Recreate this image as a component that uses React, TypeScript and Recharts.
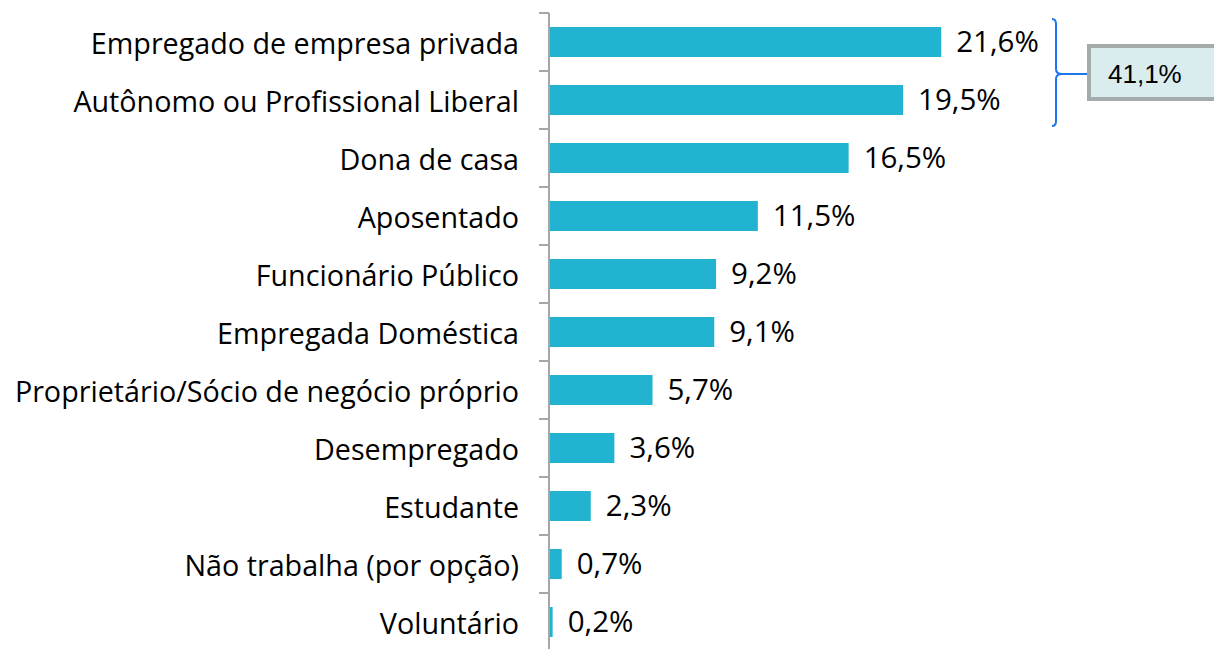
import { Bar, BarChart, Cell, LabelList, XAxis, YAxis } from "recharts";

const occupations = [
  "Empregado de empresa privada",
  "Autônomo ou Profissional Liberal",
  "Dona de casa",
  "Aposentado",
  "Funcionário Público",
  "Empregada Doméstica",
  "Proprietário/Sócio de negócio próprio",
  "Desempregado",
  "Estudante",
  "Não trabalha (por opção)",
  "Voluntário",
];

const shares = [21.6, 19.5, 16.5, 11.5, 9.2, 9.1, 5.7, 3.6, 2.3, 0.7, 0.2];

const groupTotalLabel = "41,1%";

const data = occupations.map((name, i) => ({ name, value: shares[i] }));

const CHART_W = 1214;
const CHART_H = 652;
const MARGIN = { top: 13, right: 211, bottom: 1, left: 0 };
const BAND = (CHART_H - MARGIN.top - MARGIN.bottom) / occupations.length;

const FONT = "'Open Sans', sans-serif";
const AXIS_GRAY = "#a6a6a6";

const fmt = (v: any) => `${String(v).replace(".", ",")}%`;

function CategoryTick(props: any) {
  const { x, y, payload, index } = props;
  const last = index === occupations.length - 1;
  return (
    <g>
      <line x1={x - 10} x2={x} y1={y - BAND / 2} y2={y - BAND / 2} stroke={AXIS_GRAY} strokeWidth={2} />
      {last && (
        <line x1={x - 10} x2={x} y1={y + BAND / 2} y2={y + BAND / 2} stroke={AXIS_GRAY} strokeWidth={2} />
      )}
      <text
        x={x - 30}
        y={y}
        textAnchor="end"
        dominantBaseline="central"
        fontFamily={FONT}
        fontSize={28.7}
        fill="#000"
      >
        {payload.value}
      </text>
    </g>
  );
}

function GroupBracket() {
  return (
    <svg
      width={CHART_W}
      height={CHART_H}
      style={{ position: "absolute", left: 0, top: 0, pointerEvents: "none" }}
    >
      <path
        d="M1052,19 Q1056,19 1056,24 L1056,69 Q1056,74 1062,74 L1087,74 M1062,74 Q1056,74 1056,79 L1056,121 Q1056,126 1052,126"
        fill="none"
        stroke="#1f74f0"
        strokeWidth={2}
      />
      <rect x={1089} y={46} width={130} height={53} fill="#daedee" stroke="#a3abab" strokeWidth={4} />
      <text
        x={1108}
        y={74}
        dominantBaseline="central"
        fontFamily="'Liberation Sans', Arial, sans-serif"
        fontSize={26}
        fill="#000"
      >
        {groupTotalLabel}
      </text>
    </svg>
  );
}

export default function App() {
  return (
    <div style={{ position: "absolute", left: 0, top: 0, width: CHART_W, height: 649, overflow: "hidden", background: "#fff" }}>
      <BarChart width={CHART_W} height={CHART_H} data={data} layout="vertical" margin={MARGIN}>
        <XAxis type="number" domain={[0, 25]} hide />
        <YAxis
          type="category"
          dataKey="name"
          width={549}
          tickSize={0}
          tickMargin={0}
          tickLine={false}
          axisLine={{ stroke: AXIS_GRAY, strokeWidth: 2 }}
          tick={<CategoryTick />}
          interval={0}
        />
        <Bar dataKey="value" barSize={30} fill="#21b3cf" isAnimationActive={false}>
          {data.map((d) => (
            <Cell key={d.name} fill="#21b3cf" />
          ))}
          <LabelList
            dataKey="value"
            position="right"
            offset={15}
            formatter={fmt}
            fill="#000"
            fontSize={29.5}
            fontFamily={FONT}
          />
        </Bar>
      </BarChart>
      <GroupBracket />
    </div>
  );
}
